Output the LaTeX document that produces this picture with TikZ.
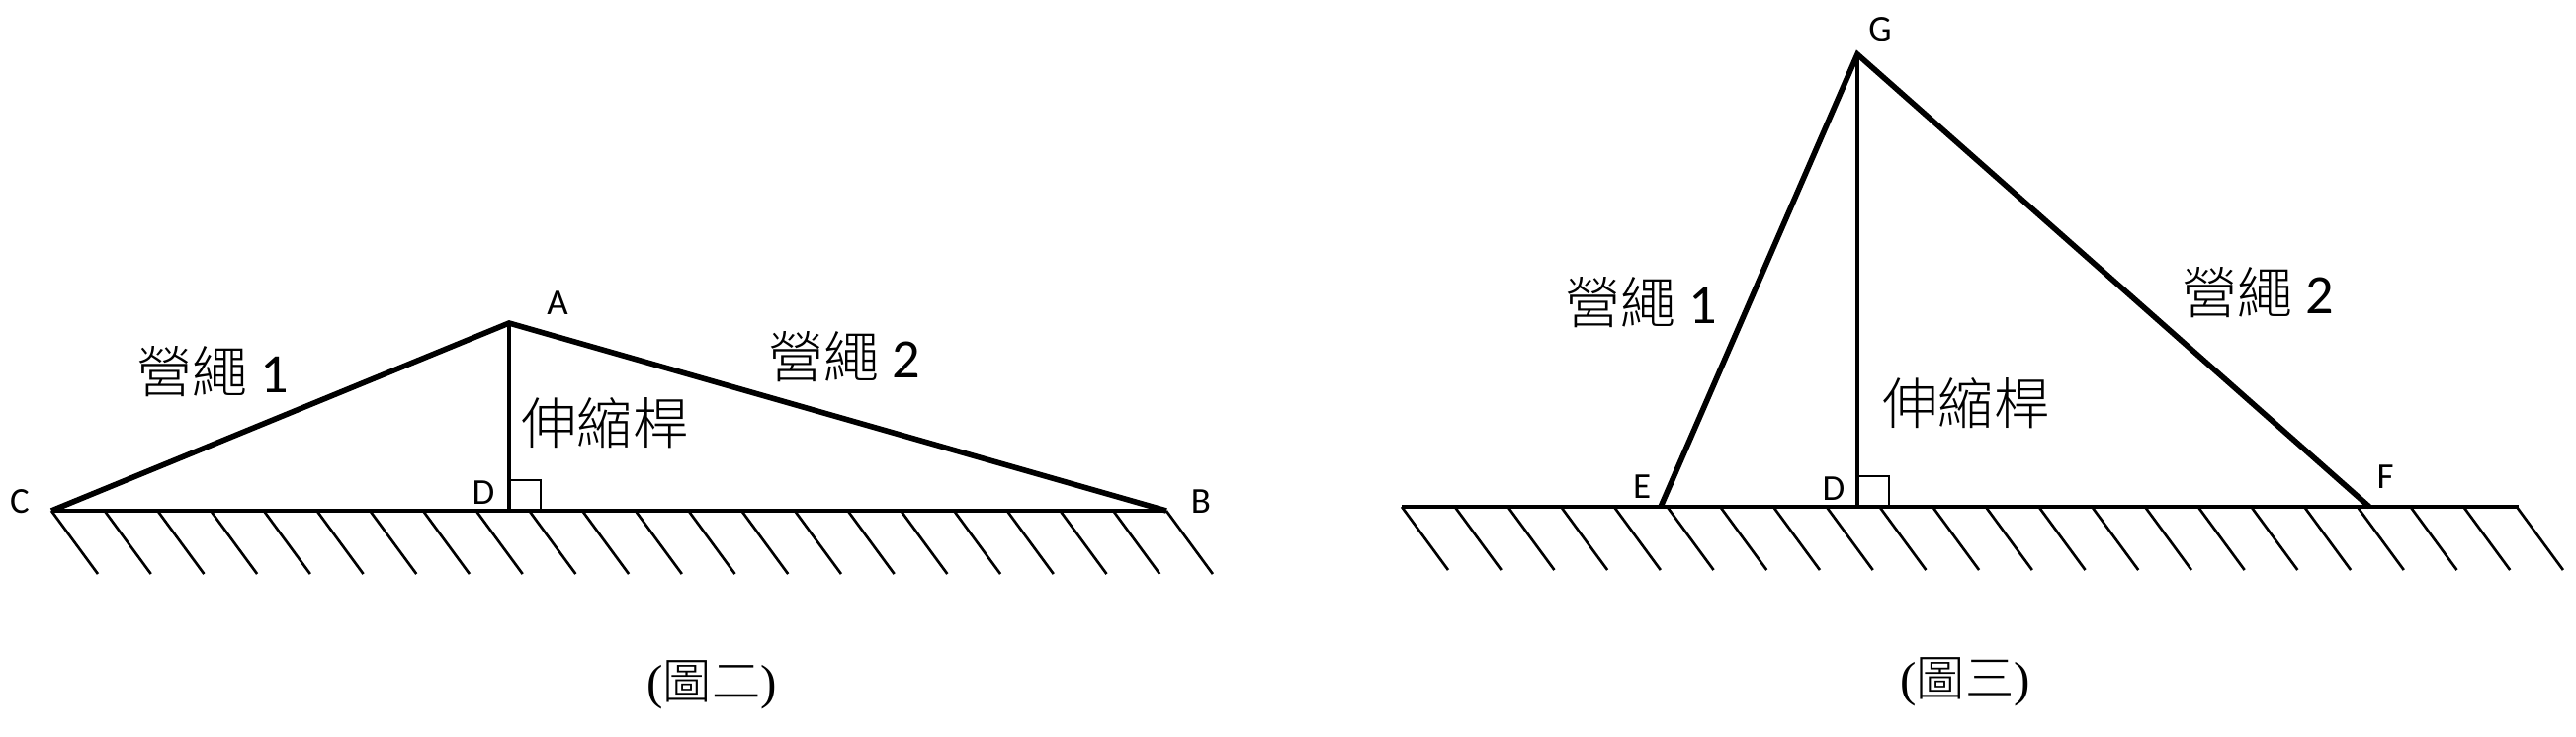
\documentclass[tikz,border=0pt]{standalone}
\usepackage{fontspec}
\setmainfont{Carlito}
\newfontfamily\cjk{Noto Sans CJK TC Light}
\newfontfamily\capfont{Liberation Serif}
\usetikzlibrary{positioning}

\tikzset{
	rope/.style={black, line width=1.6pt},
	pole/.style={black, line width=1.25pt},
	ground/.style={black, line width=0.9pt},
	hatch/.style={black, line width=0.75pt},
	ptlabel/.style={font=\fontsize{10.5}{12}\selectfont},
	ropelabel/.style={font=\fontsize{16}{18}\selectfont},
	figcaption/.style={font=\capfont\fontsize{14}{16}\selectfont}
}

\begin{document}
\begin{tikzpicture}[x=0.01cm, y=-0.01cm]
						\useasboundingbox (0, 0) rectangle (2606, 745);
						% (圖二)
						\coordinate (C) at (52, 517);
						\coordinate (A) at (515, 327);
						\coordinate (B) at (1180, 517);
						\coordinate (D) at (515, 517);
						\draw[ground] (C)--(B);
						\foreach \i in {0, ..., 21} \draw[hatch] ({52 + \i*53.71}, 517)--++(47, 64);
						\draw[rope] (C)--(A)--(B);
						\draw[pole] (A)--(D);
						\draw[hatch] ([xshift=0.6pt]D) ++(0, -31)--++(30, 0)--++(0, 31);
						\node[ptlabel] (labelA) at (564, 307) {A};
						\node[ptlabel] (labelC) at (20, 508) {C};
						\node[ptlabel] (labelB) at (1215, 508) {B};
						\node[ptlabel] (labelD) at (489, 499) {D};
						\node[ropelabel] (ropeCA) at (215, 376) {{\cjk 營繩} 1};
						\node[ropelabel] (ropeAB) at (854, 361) {{\cjk 營繩} 2};
						\node[ropelabel] (poleAD) at (612, 428) {\cjk 伸縮桿};
						\node[figcaption] (figtwo) at (720, 693) {({\cjk 圖二})};
						% (圖三)
						\coordinate (E) at (1680, 513);
						\coordinate (G) at (1879, 55);
						\coordinate (F) at (2397, 513);
						\coordinate (H) at (1879, 513);
						\draw[ground] (1418, 513)--(2548, 513);
						\foreach \i in {0, ..., 21} \draw[hatch] ({1418 + \i*53.71}, 513)--++(47, 64);
						\draw[rope] (E)--(G)--(F);
						\draw[pole] (G)--(H);
						\draw[hatch] ([xshift=0.6pt]H) ++(0, -31)--++(30, 0)--++(0, 31);
						\node[ptlabel] (labelG) at (1902, 30) {G};
						\node[ptlabel] (labelE) at (1661, 493) {E};
						\node[ptlabel] (labelH) at (1855, 495) {D};
						\node[ptlabel] (labelF) at (2413, 483) {F};
						\node[ropelabel] (ropeEG) at (1660, 306) {{\cjk 營繩} 1};
						\node[ropelabel] (ropeGF) at (2284, 296) {{\cjk 營繩} 2};
						\node[ropelabel] (poleGH) at (1989, 408) {\cjk 伸縮桿};
						\node[figcaption] (figthree) at (1988, 690) {({\cjk 圖三})};
					\end{tikzpicture}
\end{document}
